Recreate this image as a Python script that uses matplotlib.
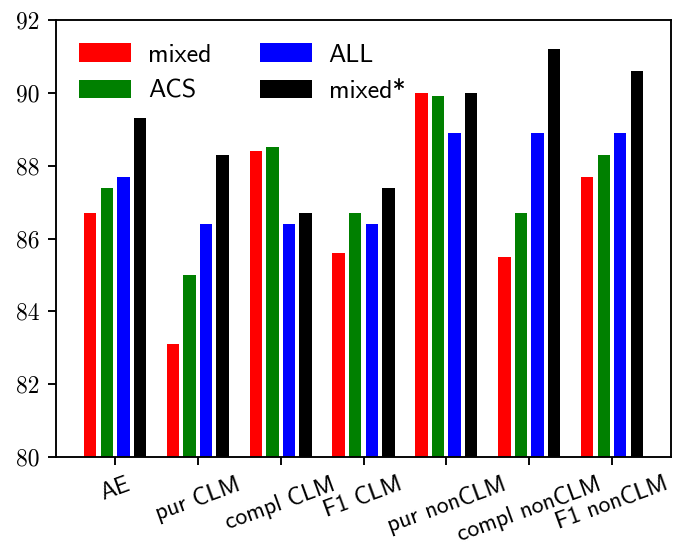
import matplotlib
matplotlib.use("Agg")
import matplotlib.pyplot as plt
import numpy as np

categories = ["AE", "pur CLM", "compl CLM", "F1 CLM",
              "pur nonCLM", "compl nonCLM", "F1 nonCLM"]
mixed      = [86.7, 83.1, 88.4, 85.6, 90.0, 85.5, 87.7]
acs        = [87.4, 85.0, 88.5, 86.7, 89.9, 86.7, 88.3]
all_feat   = [87.7, 86.4, 86.4, 86.4, 88.9, 88.9, 88.9]
mixed_star = [89.3, 88.3, 86.7, 87.4, 90.0, 91.2, 90.6]

series = [("mixed", mixed, "r"), ("ACS", acs, "g"),
          ("ALL", all_feat, "b"), ("mixed*", mixed_star, "k")]
yticks = [80, 82, 84, 86, 88, 90, 92]

DPI = 170
fig = plt.figure(figsize=(678 / DPI, 547 / DPI), dpi=DPI)
ax = fig.add_axes([0.0826, 0.1645, 0.9071, 0.7989])

x = np.arange(len(categories))
w = 0.15
offsets = [-0.3, -0.1, 0.1, 0.3]
for (label, vals, color), off in zip(series, offsets):
    ax.bar(x + off, np.array(vals) - 80, w, bottom=80, color=color, label=label)

ax.set_ylim(80, 92)
ax.set_yticks(yticks)
ax.set_yticklabels([str(v) for v in yticks], fontfamily="cmr10")
ax.set_xticks(x)
ax.set_xticklabels(categories, rotation=20, ha="center", fontfamily="cmss10")

ax.legend(ncol=2, loc="upper left", frameon=False,
          prop={"family": "cmss10", "size": 11},
          handletextpad=0.65, columnspacing=1.85)

fig.savefig("out.png", dpi=DPI)
